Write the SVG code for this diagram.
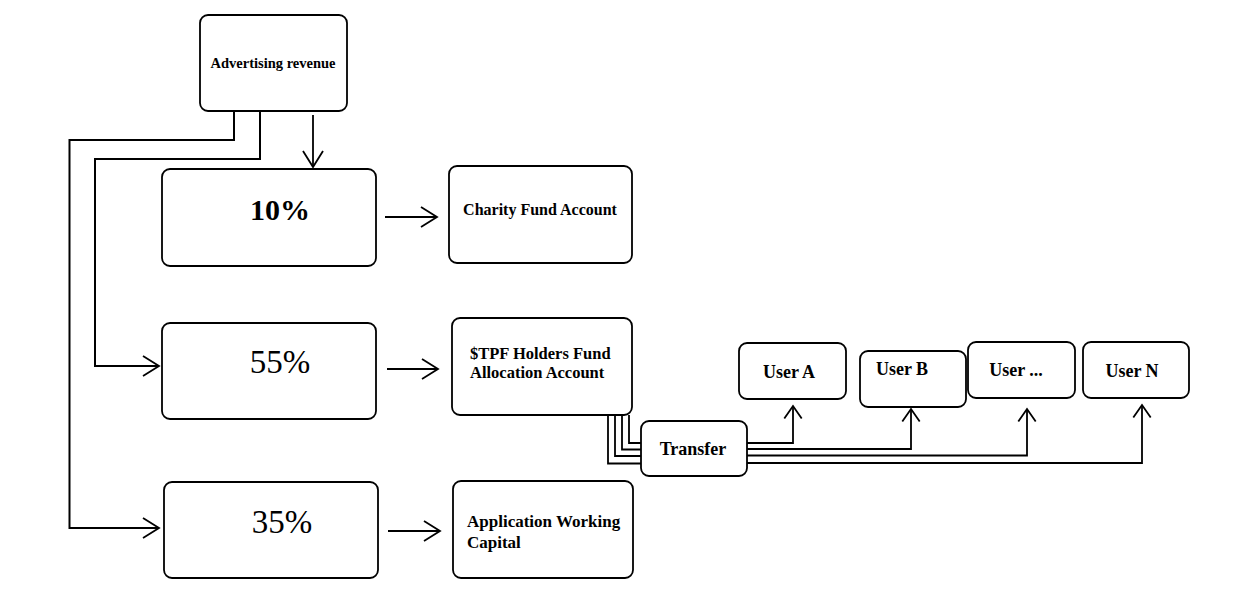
<svg xmlns="http://www.w3.org/2000/svg" width="1244" height="611" viewBox="0 0 1244 611">
  <style>
    .box { fill: #ffffff; stroke: #000000; stroke-width: 1.8; }
    .t { font-family: "Liberation Serif", "Times New Roman", serif; fill: #000000; }
    .b { font-weight: bold; }
    .conn { fill: none; stroke: #000000; stroke-width: 1.8; }
    .thick { stroke-width: 2; }
    .big { marker-end: url(#arrowBig); }
    .small { marker-end: url(#arrowSmall); }
  </style>
  <defs>
    <marker id="arrowBig" markerUnits="userSpaceOnUse" viewBox="0 0 20 24" refX="18" refY="12" markerWidth="20" markerHeight="24" orient="auto">
      <path d="M2,2 L18,12 L2,22" fill="none" stroke="#000000" stroke-width="1.8"/>
    </marker>
    <marker id="arrowSmall" markerUnits="userSpaceOnUse" viewBox="0 0 16 20" refX="14" refY="10" markerWidth="16" markerHeight="20" orient="auto">
      <path d="M1.5,1.3 L14,10 L1.5,18.7" fill="none" stroke="#000000" stroke-width="1.8"/>
    </marker>
  </defs>
  <rect width="1244" height="611" fill="#ffffff"/>

  <g id="connectors">
    <path class="conn thick big" d="M234,111 V140 H69.5 V528 H159"/>
    <path class="conn thick big" d="M260,111 V159 H95 V366 H159"/>
    <path class="conn big" d="M313,115 V167"/>
    <path class="conn big" d="M385,217 H437"/>
    <path class="conn big" d="M387,369 H438"/>
    <path class="conn big" d="M388,531 H440"/>
    <path class="conn" d="M629,415 V443 H641"/>
    <path class="conn" d="M622,415 V449.5 H641"/>
    <path class="conn" d="M615,415 V456 H641"/>
    <path class="conn" d="M608,415 V463.5 H641"/>
    <path class="conn small" d="M747,443 H793 V406"/>
    <path class="conn small" d="M747,449 H911 V409"/>
    <path class="conn small" d="M747,455.5 H1027 V409"/>
    <path class="conn small" d="M747,463 H1142 V405"/>
  </g>

  <g id="advertising">
    <rect class="box" x="200" y="15" width="147" height="96" rx="8"/>
    <text class="t b" x="273" y="67.5" font-size="14.5" text-anchor="middle">Advertising revenue</text>
  </g>
  <g id="p10">
    <rect class="box" x="162" y="169" width="214" height="97" rx="8"/>
    <text class="t b" x="280" y="220" font-size="30" text-anchor="middle">10%</text>
  </g>
  <g id="charity">
    <rect class="box" x="449" y="166" width="183" height="97" rx="8"/>
    <text class="t b" x="540" y="215" font-size="16" text-anchor="middle">Charity Fund Account</text>
  </g>
  <g id="p55">
    <rect class="box" x="162" y="323" width="214" height="96" rx="8"/>
    <text class="t" x="280" y="373" font-size="33" text-anchor="middle">55%</text>
  </g>
  <g id="tpf">
    <rect class="box" x="452" y="318" width="180" height="97" rx="8"/>
    <text class="t b" x="470" y="359" font-size="16.5">$TPF Holders Fund</text>
    <text class="t b" x="470" y="378" font-size="16.5">Allocation Account</text>
  </g>
  <g id="p35">
    <rect class="box" x="164" y="482" width="214" height="96" rx="8"/>
    <text class="t" x="282" y="533" font-size="33" text-anchor="middle">35%</text>
  </g>
  <g id="app">
    <rect class="box" x="453" y="481" width="180" height="97" rx="8"/>
    <text class="t b" x="467" y="527" font-size="17">Application Working</text>
    <text class="t b" x="467" y="548" font-size="17">Capital</text>
  </g>
  <g id="transfer">
    <rect class="box" x="641" y="421" width="106" height="55" rx="8"/>
    <text class="t b" x="693" y="455" font-size="18" text-anchor="middle">Transfer</text>
  </g>
  <g id="userA">
    <rect class="box" x="739" y="343" width="107" height="56" rx="8"/>
    <text class="t b" x="789" y="378" font-size="18" text-anchor="middle">User A</text>
  </g>
  <g id="userB">
    <rect class="box" x="860" y="351" width="106" height="56" rx="8"/>
    <text class="t b" x="902" y="375" font-size="18" text-anchor="middle">User B</text>
  </g>
  <g id="userDots">
    <rect class="box" x="968" y="342" width="107" height="56" rx="8"/>
    <text class="t b" x="1016" y="376" font-size="18" text-anchor="middle">User ...</text>
  </g>
  <g id="userN">
    <rect class="box" x="1083" y="342" width="106" height="56" rx="8"/>
    <text class="t b" x="1132" y="377" font-size="18" text-anchor="middle">User N</text>
  </g>
</svg>
